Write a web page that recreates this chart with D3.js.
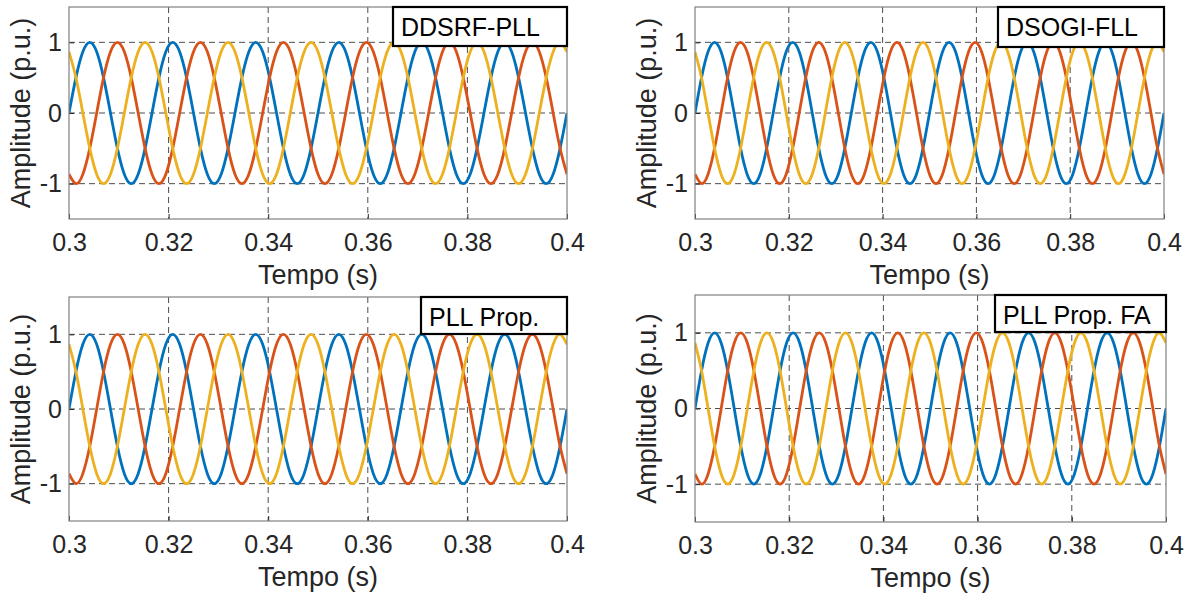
<!DOCTYPE html>
<html>
<head>
<meta charset="utf-8">
<script src="https://cdn.jsdelivr.net/npm/d3@7"></script>
<style>
  body { margin: 0; background: #fff; }
  svg { display: block; font-family: "Liberation Sans", Arial, sans-serif; }
</style>
</head>
<body>
<svg id="chart" width="1192" height="596"></svg>
<script>
// Sample times (s), one point every 30 degrees of a 60 Hz wave
var tempo = [
  0.30000, 0.30139, 0.30278, 0.30417, 0.30556, 0.30694, 0.30833, 0.30972, 0.31111, 0.31250, 0.31389, 0.31528,
  0.31667, 0.31806, 0.31944, 0.32083, 0.32222, 0.32361, 0.32500, 0.32639, 0.32778, 0.32917, 0.33056, 0.33194,
  0.33333, 0.33472, 0.33611, 0.33750, 0.33889, 0.34028, 0.34167, 0.34306, 0.34444, 0.34583, 0.34722, 0.34861,
  0.35000, 0.35139, 0.35278, 0.35417, 0.35556, 0.35694, 0.35833, 0.35972, 0.36111, 0.36250, 0.36389, 0.36528,
  0.36667, 0.36806, 0.36944, 0.37083, 0.37222, 0.37361, 0.37500, 0.37639, 0.37778, 0.37917, 0.38056, 0.38194,
  0.38333, 0.38472, 0.38611, 0.38750, 0.38889, 0.39028, 0.39167, 0.39306, 0.39444, 0.39583, 0.39722, 0.39861,
  0.40000
];

// Phase A (blue)
var faseA = [
  0, 0.5, 0.866, 1, 0.866, 0.5, 0, -0.5, -0.866, -1, -0.866, -0.5,
  0, 0.5, 0.866, 1, 0.866, 0.5, 0, -0.5, -0.866, -1, -0.866, -0.5,
  0, 0.5, 0.866, 1, 0.866, 0.5, 0, -0.5, -0.866, -1, -0.866, -0.5,
  0, 0.5, 0.866, 1, 0.866, 0.5, 0, -0.5, -0.866, -1, -0.866, -0.5,
  0, 0.5, 0.866, 1, 0.866, 0.5, 0, -0.5, -0.866, -1, -0.866, -0.5,
  0, 0.5, 0.866, 1, 0.866, 0.5, 0, -0.5, -0.866, -1, -0.866, -0.5,
  0
];

// Phase B (orange)
var faseB = [
  -0.866, -1, -0.866, -0.5, 0, 0.5, 0.866, 1, 0.866, 0.5, 0, -0.5,
  -0.866, -1, -0.866, -0.5, 0, 0.5, 0.866, 1, 0.866, 0.5, 0, -0.5,
  -0.866, -1, -0.866, -0.5, 0, 0.5, 0.866, 1, 0.866, 0.5, 0, -0.5,
  -0.866, -1, -0.866, -0.5, 0, 0.5, 0.866, 1, 0.866, 0.5, 0, -0.5,
  -0.866, -1, -0.866, -0.5, 0, 0.5, 0.866, 1, 0.866, 0.5, 0, -0.5,
  -0.866, -1, -0.866, -0.5, 0, 0.5, 0.866, 1, 0.866, 0.5, 0, -0.5,
  -0.866
];

// Phase C (yellow)
var faseC = [
  0.866, 0.5, 0, -0.5, -0.866, -1, -0.866, -0.5, 0, 0.5, 0.866, 1,
  0.866, 0.5, 0, -0.5, -0.866, -1, -0.866, -0.5, 0, 0.5, 0.866, 1,
  0.866, 0.5, 0, -0.5, -0.866, -1, -0.866, -0.5, 0, 0.5, 0.866, 1,
  0.866, 0.5, 0, -0.5, -0.866, -1, -0.866, -0.5, 0, 0.5, 0.866, 1,
  0.866, 0.5, 0, -0.5, -0.866, -1, -0.866, -0.5, 0, 0.5, 0.866, 1,
  0.866, 0.5, 0, -0.5, -0.866, -1, -0.866, -0.5, 0, 0.5, 0.866, 1,
  0.866
];

var legendas = ["DDSRF-PLL", "DSOGI-FLL", "PLL Prop.", "PLL Prop. FA"];
var xTicks = [0.3, 0.32, 0.34, 0.36, 0.38, 0.4];
var xTickLabels = ["0.3", "0.32", "0.34", "0.36", "0.38", "0.4"];
var yTicks = [-1, 0, 1];
var yTickLabels = ["-1", "0", "1"];

//Panel layout (pixels) - kept apart from the data
var panels = [
  { left: 69,  right: 567,  top: 7,   bottom: 219, boxW: 174, boxH: 39 },
  { left: 695, right: 1164, top: 7,   bottom: 219, boxW: 166, boxH: 40 },
  { left: 69,  right: 567,  top: 297, bottom: 521, boxW: 146, boxH: 37 },
  { left: 695, right: 1166, top: 295, bottom: 522, boxW: 171, boxH: 37 }
];
var cores = ["#0072BD", "#D95319", "#EDB120"];
var series = [faseA, faseB, faseC];

var svg = d3.select("#chart");

panels.forEach(function (p, i) {
  var x = d3.scaleLinear().domain([0.3, 0.4]).range([p.left, p.right]);
  var y = d3.scaleLinear().domain([-1.5, 1.5]).range([p.bottom, p.top]);
  var g = svg.append("g");

  //Clip the waves to the axes box
  g.append("clipPath").attr("id", "clip" + i)
    .append("rect")
    .attr("x", p.left).attr("y", p.top)
    .attr("width", p.right - p.left).attr("height", p.bottom - p.top);

  //Dashed grid
  g.selectAll(".vgrid").data(xTicks.slice(1, -1)).enter().append("line")
    .attr("x1", function (d) { return x(d); }).attr("x2", function (d) { return x(d); })
    .attr("y1", p.top).attr("y2", p.bottom)
    .attr("stroke", "#4d4d4d").attr("stroke-width", 1).attr("stroke-dasharray", "6,4");
  g.selectAll(".hgrid").data(yTicks).enter().append("line")
    .attr("x1", p.left).attr("x2", p.right)
    .attr("y1", function (d) { return y(d); }).attr("y2", function (d) { return y(d); })
    .attr("stroke", "#4d4d4d").attr("stroke-width", 1).attr("stroke-dasharray", "6,4");

  //Waveforms
  var line = d3.line()
    .x(function (d) { return x(d[0]); })
    .y(function (d) { return y(d[1]); })
    .curve(d3.curveNatural);

  series.forEach(function (s, k) {
    g.append("path")
      .attr("clip-path", "url(#clip" + i + ")")
      .attr("d", line(d3.zip(tempo, s)))
      .attr("fill", "none")
      .attr("stroke", cores[k])
      .attr("stroke-width", 2.8);
  });

  //Axes
  var xAxis = d3.axisBottom(x).tickValues(xTicks)
    .tickFormat(function (d, j) { return xTickLabels[j]; })
    .tickSizeInner(-5).tickSizeOuter(0).tickPadding(14);
  var yAxis = d3.axisLeft(y).tickValues(yTicks)
    .tickFormat(function (d, j) { return yTickLabels[j]; })
    .tickSizeInner(-5).tickSizeOuter(0).tickPadding(7);

  var gx = g.append("g").attr("transform", "translate(0," + p.bottom + ")").call(xAxis);
  var gy = g.append("g").attr("transform", "translate(" + p.left + ",0)").call(yAxis);
  [gx, gy].forEach(function (a) {
    a.select(".domain").remove();
    a.selectAll(".tick line").attr("stroke", "#262626");
    a.selectAll(".tick text").attr("fill", "#262626").style("font-size", "25px")
      .style("font-family", "'Liberation Sans', Arial, sans-serif");
  });

  //Axes box
  g.append("rect")
    .attr("x", p.left).attr("y", p.top)
    .attr("width", p.right - p.left).attr("height", p.bottom - p.top)
    .attr("fill", "none").attr("stroke", "#808080").attr("stroke-width", 1.2);

  //Axis labels
  g.append("text")
    .attr("x", (p.left + p.right) / 2).attr("y", p.bottom + 65)
    .attr("text-anchor", "middle").attr("fill", "#262626")
    .style("font-size", "27px").text("Tempo (s)");
  g.append("text")
    .attr("transform", "translate(" + (p.left - 39) + "," + ((p.top + p.bottom) / 2) + ") rotate(-90)")
    .attr("text-anchor", "middle").attr("fill", "#262626")
    .style("font-size", "27px").text("Amplitude (p.u.)");

  //Legend box
  g.append("rect")
    .attr("x", p.right - p.boxW).attr("y", p.top)
    .attr("width", p.boxW).attr("height", p.boxH)
    .attr("fill", "#fff").attr("stroke", "#000").attr("stroke-width", 2.2);
  g.append("text")
    .attr("x", p.right - p.boxW + 8).attr("y", p.top + 29)
    .attr("fill", "#000").style("font-size", "25px")
    .text(legendas[i]);
});
</script>
</body>
</html>
